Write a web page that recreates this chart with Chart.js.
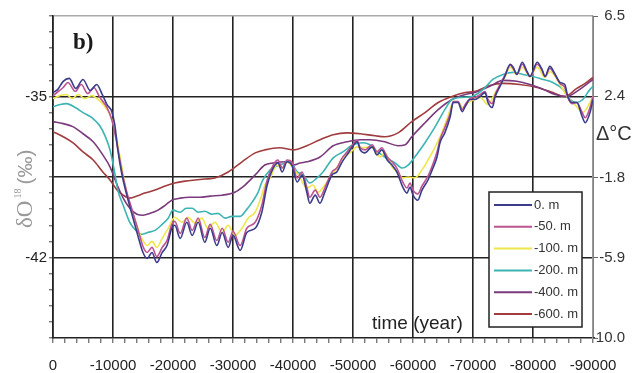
<!DOCTYPE html>
<html>
<head>
<meta charset="utf-8">
<script src="https://cdn.jsdelivr.net/npm/chart.js@4.4.1/dist/chart.umd.min.js"></script>
<style>
  html, body { margin: 0; padding: 0; background: #fff; }
  canvas { display: block; }
</style>
</head>
<body>
<canvas id="iso" width="632" height="373"></canvas>
<script>
// series: delta O18 (per mil) against time (years), one array of [time, value] per depth
const seriesLabels = ['0. m', '-50. m', '-100. m', '-200. m', '-400. m', '-600. m'];
const seriesColors = ['#3c3c8c', '#bc5490', '#eee64a', '#3cb4b4', '#7a3a7c', '#a03c3e'];

const d0 = [[0,-34.83],[-800,-34.69],[-1700,-34.34],[-2700,-34.21],[-3800,-34.65],[-5000,-34.26],[-6200,-34.74],[-7300,-34.48],[-8200,-34.91],[-9000,-35.35],[-9800,-35.66],[-10300,-36.23],[-10800,-37.32],[-11500,-38.41],[-12300,-39.29],[-13200,-40.16],[-14000,-40.91],[-15000,-41.78],[-15700,-42.04],[-16500,-41.78],[-17300,-42.22],[-18200,-41.78],[-19000,-41.48],[-19800,-40.73],[-20300,-40.60],[-21200,-41.17],[-22300,-40.47],[-23200,-41.04],[-24200,-40.47],[-25300,-41.34],[-26200,-40.73],[-27300,-41.48],[-28200,-40.91],[-29200,-41.56],[-30000,-41.04],[-31200,-41.69],[-32300,-40.91],[-33700,-40.73],[-34800,-40.03],[-35700,-38.85],[-36700,-38.11],[-37500,-37.89],[-38200,-38.28],[-39000,-37.84],[-39800,-37.98],[-40700,-38.72],[-41500,-38.41],[-42300,-39.16],[-42800,-39.64],[-43700,-39.29],[-44500,-39.64],[-45300,-39.16],[-46500,-38.41],[-47300,-38.28],[-48200,-37.84],[-49000,-37.54],[-49800,-37.23],[-50700,-36.97],[-51200,-37.32],[-52000,-37.45],[-53200,-37.19],[-54000,-37.54],[-54800,-37.32],[-55700,-37.76],[-56500,-37.98],[-57300,-38.28],[-58300,-38.94],[-59000,-39.20],[-59500,-38.94],[-60000,-39.29],[-60800,-39.51],[-61500,-39.07],[-62500,-38.63],[-63200,-38.19],[-64000,-37.63],[-64500,-37.01],[-65300,-36.58],[-66200,-35.88],[-66700,-35.26],[-67500,-35.26],[-68200,-35.66],[-68700,-35.44],[-69500,-35.13],[-70300,-35.13],[-71200,-35.00],[-72000,-34.83],[-72500,-35.26],[-73200,-35.48],[-73700,-35.00],[-74500,-34.56],[-75300,-34.13],[-76200,-33.60],[-76700,-33.73],[-77300,-34.04],[-78200,-33.51],[-79000,-33.91],[-79500,-34.13],[-80700,-33.51],[-81500,-33.82],[-82000,-34.13],[-82800,-33.69],[-83700,-34.04],[-84500,-34.39],[-85300,-34.48],[-85800,-35.00],[-86500,-35.26],[-87300,-35.26],[-88200,-35.88],[-88700,-36.14],[-89500,-35.70],[-90000,-35.13]];

const d50 = [[0,-34.96],[-1700,-34.61],[-2500,-34.39],[-3700,-34.78],[-4700,-34.48],[-5800,-34.87],[-6800,-34.61],[-7800,-35.04],[-9000,-35.48],[-9800,-36.01],[-10700,-37.10],[-11500,-38.28],[-12300,-39.16],[-13200,-39.94],[-14200,-40.82],[-15000,-41.52],[-15700,-41.78],[-16500,-41.56],[-17300,-41.96],[-18200,-41.56],[-19000,-41.26],[-19800,-40.56],[-20300,-40.43],[-21200,-40.95],[-22300,-40.29],[-23200,-40.82],[-24200,-40.29],[-25300,-41.13],[-26200,-40.56],[-27300,-41.26],[-28200,-40.73],[-29200,-41.34],[-30000,-40.86],[-31200,-41.48],[-32300,-40.73],[-33700,-40.47],[-34800,-39.73],[-35700,-38.63],[-36700,-37.98],[-37500,-37.76],[-38200,-38.11],[-39000,-37.76],[-39800,-37.84],[-40700,-38.54],[-41500,-38.28],[-42300,-38.94],[-42800,-39.38],[-43700,-39.07],[-44500,-39.38],[-45300,-38.98],[-46500,-38.28],[-47300,-38.11],[-48200,-37.67],[-49000,-37.41],[-49800,-37.14],[-50700,-36.92],[-51200,-37.23],[-52000,-37.32],[-53200,-37.10],[-54000,-37.41],[-54800,-37.23],[-55700,-37.63],[-56500,-37.84],[-57300,-38.11],[-58300,-38.72],[-59000,-38.98],[-59500,-38.76],[-60000,-39.07],[-60800,-39.24],[-61500,-38.89],[-62500,-38.46],[-63200,-38.02],[-64000,-37.41],[-64500,-36.88],[-65300,-36.36],[-66200,-35.74],[-66700,-35.22],[-67500,-35.22],[-68200,-35.57],[-68700,-35.35],[-69500,-35.09],[-70300,-35.04],[-71200,-34.91],[-72000,-34.78],[-72500,-35.13],[-73200,-35.31],[-73700,-34.91],[-74500,-34.48],[-75300,-34.08],[-76200,-33.64],[-76700,-33.78],[-77300,-34.04],[-78200,-33.60],[-79000,-33.95],[-79500,-34.13],[-80700,-33.60],[-81500,-33.86],[-82000,-34.13],[-82800,-33.78],[-83700,-34.08],[-84500,-34.43],[-85300,-34.61],[-85800,-35.04],[-86500,-35.31],[-87300,-35.26],[-88200,-35.70],[-88700,-35.92],[-89500,-35.48],[-90000,-35.00]];

const d100 = [[0,-35.09],[-1200,-34.96],[-2200,-34.91],[-3200,-35.09],[-4200,-34.91],[-5300,-35.09],[-6500,-34.96],[-7500,-35.13],[-8500,-35.39],[-9500,-35.79],[-10300,-36.44],[-11200,-37.67],[-12000,-38.85],[-12800,-39.73],[-13800,-40.47],[-14800,-41.17],[-15700,-41.48],[-16500,-41.30],[-17300,-41.56],[-18200,-41.17],[-19200,-40.73],[-20300,-40.25],[-21500,-40.47],[-22500,-40.25],[-23700,-40.51],[-24800,-40.29],[-25800,-40.73],[-27000,-40.47],[-28200,-40.91],[-29200,-40.60],[-30300,-41.04],[-31500,-40.73],[-32500,-40.29],[-33700,-40.03],[-34800,-39.29],[-35300,-38.85],[-36200,-38.54],[-37300,-37.98],[-38200,-38.11],[-39000,-37.84],[-40000,-38.11],[-41200,-38.54],[-42300,-38.98],[-43300,-38.85],[-44200,-39.16],[-45300,-38.85],[-46500,-38.41],[-47300,-38.11],[-48300,-37.67],[-49500,-37.45],[-50700,-37.19],[-51700,-37.23],[-52800,-37.19],[-53700,-37.32],[-54500,-37.63],[-55300,-37.45],[-56500,-38.06],[-57500,-38.33],[-58300,-38.54],[-59200,-38.50],[-60300,-38.54],[-61500,-38.19],[-62500,-37.76],[-63700,-37.19],[-64800,-36.58],[-65800,-35.88],[-66700,-35.26],[-67500,-35.22],[-68300,-35.48],[-69200,-35.26],[-70300,-35.13],[-71200,-35.04],[-72500,-35.35],[-73700,-34.83],[-75300,-34.17],[-76200,-33.73],[-77300,-34.04],[-78200,-33.73],[-79500,-34.13],[-80700,-33.73],[-82000,-34.17],[-82800,-33.91],[-84500,-34.48],[-85800,-35.04],[-87300,-35.44],[-88300,-35.70],[-89500,-35.26],[-90000,-35.00]];

const d200 = [[0,-35.44],[-1200,-35.35],[-2300,-35.31],[-3700,-35.48],[-5000,-35.70],[-6500,-35.92],[-7800,-36.27],[-8800,-36.79],[-9500,-37.32],[-10200,-38.19],[-10800,-39.07],[-11700,-39.73],[-12800,-40.47],[-13800,-40.82],[-14800,-40.99],[-15800,-40.91],[-17000,-40.82],[-18200,-40.56],[-19200,-40.29],[-20000,-39.94],[-21200,-40.03],[-22200,-39.86],[-23200,-39.86],[-24200,-40.03],[-25300,-39.99],[-26500,-40.12],[-27500,-40.08],[-28700,-40.29],[-29800,-40.21],[-31200,-40.21],[-32200,-39.94],[-33200,-39.59],[-34200,-39.16],[-34800,-38.72],[-35500,-38.41],[-36500,-38.11],[-37800,-37.98],[-39500,-37.84],[-40700,-38.28],[-41700,-38.41],[-42800,-38.76],[-44000,-38.54],[-45000,-38.28],[-46700,-37.67],[-48300,-37.41],[-50000,-37.10],[-51700,-37.01],[-52800,-37.10],[-53700,-37.32],[-55300,-37.63],[-57000,-37.89],[-58200,-38.11],[-59200,-37.98],[-60300,-37.63],[-62000,-37.01],[-63700,-36.31],[-65300,-35.57],[-66500,-35.13],[-68200,-35.04],[-69800,-35.00],[-71700,-34.69],[-73300,-34.26],[-75000,-34.04],[-76700,-33.95],[-78300,-34.04],[-80000,-34.13],[-81700,-34.26],[-83300,-34.39],[-85000,-34.69],[-86200,-35.13],[-87300,-35.26],[-88300,-35.13],[-89500,-34.69],[-90000,-34.56]];

const d400 = [[0,-36.09],[-1700,-36.18],[-3300,-36.31],[-5000,-36.62],[-6700,-36.97],[-8300,-37.54],[-9500,-38.06],[-10700,-38.85],[-11700,-39.42],[-12800,-39.86],[-14000,-40.12],[-15000,-40.16],[-16200,-40.08],[-17500,-39.94],[-18700,-39.73],[-19800,-39.51],[-21200,-39.42],[-22800,-39.38],[-24500,-39.38],[-26200,-39.33],[-28200,-39.29],[-30300,-39.16],[-32000,-38.85],[-33700,-38.41],[-35300,-37.98],[-36700,-37.89],[-39000,-37.84],[-40000,-37.98],[-41200,-37.89],[-42300,-37.84],[-44500,-37.63],[-46700,-37.14],[-49000,-36.97],[-51200,-36.88],[-52800,-36.88],[-55300,-36.97],[-57500,-37.14],[-58700,-37.10],[-59800,-36.75],[-62000,-36.14],[-64200,-35.57],[-66500,-35.13],[-68700,-34.91],[-70300,-34.83],[-72800,-34.56],[-75000,-34.30],[-77300,-34.34],[-79500,-34.48],[-81700,-34.69],[-83700,-34.91],[-85700,-35.00],[-87300,-34.78],[-88700,-34.52],[-90000,-34.26]];

const d600 = [[0,-36.53],[-1700,-36.75],[-3300,-37.01],[-5000,-37.41],[-6700,-37.76],[-8300,-38.28],[-9500,-38.63],[-10700,-39.07],[-11700,-39.29],[-12800,-39.42],[-14000,-39.33],[-15300,-39.20],[-17000,-39.07],[-18700,-38.89],[-20300,-38.76],[-22000,-38.68],[-23700,-38.63],[-25300,-38.59],[-27000,-38.54],[-29200,-38.28],[-31500,-37.84],[-33700,-37.45],[-35300,-37.32],[-37800,-37.23],[-40000,-37.32],[-42300,-37.14],[-44500,-36.88],[-46700,-36.66],[-49000,-36.58],[-51200,-36.62],[-53700,-36.71],[-55300,-36.75],[-57500,-36.58],[-59800,-36.09],[-62000,-35.70],[-64200,-35.26],[-66500,-35.00],[-68700,-34.83],[-70300,-34.78],[-72800,-34.52],[-75000,-34.43],[-77800,-34.48],[-80700,-34.61],[-83300,-34.83],[-85300,-35.00],[-87300,-34.65],[-88700,-34.43],[-90000,-34.17]];

const seriesData = [d0, d50, d100, d200, d400, d600];

// axes
const xMajor = [0, -10000, -20000, -30000, -40000, -50000, -60000, -70000, -80000, -90000];
const leftLabels = [-35, -42];
const leftGrid = [-35, -38.5, -42];
const rightTicks = [6.5, 2.4, -1.8, -5.9, -10.0];

const tickFont = { family: "'Liberation Sans', Arial, sans-serif", size: 15 };
const near = (a, b) => Math.abs(a - b) < 0.01;

const textPlugin = {
  id: 'texts',
  afterDraw(chart) {
    const ctx = chart.ctx;
    const area = chart.chartArea;
    ctx.save();

    // panel letter
    ctx.fillStyle = '#1a1a1a';
    ctx.font = "bold 23px 'Liberation Serif', 'Times New Roman', serif";
    ctx.textBaseline = 'alphabetic';
    ctx.textAlign = 'left';
    ctx.fillText('b)', area.left + 20, area.top + 33);

    // x title inside plot
    ctx.fillStyle = '#222';
    ctx.font = "19px 'Liberation Sans', Arial, sans-serif";
    ctx.fillText('time (year)', 372, area.bottom - 9);

    // right title
    ctx.fillStyle = '#333';
    ctx.font = "20px 'Liberation Sans', Arial, sans-serif";
    ctx.fillText('\u0394\u00B0C', 596, 140);

    // left title, rotated
    ctx.save();
    ctx.translate(32, 228);
    ctx.rotate(-Math.PI / 2);
    ctx.fillStyle = '#9a9a9a';
    let x = 0;
    ctx.font = "23px 'Liberation Serif', 'Times New Roman', serif";
    ctx.fillText('\u03B4O', x, 0);
    x += ctx.measureText('\u03B4O').width + 2;
    ctx.font = "10px 'Liberation Serif', serif";
    ctx.fillText('18', x, -11);
    x += ctx.measureText('18').width + 4;
    ctx.font = "21px 'Liberation Sans', Arial, sans-serif";
    ctx.fillText('(\u2030)', x, 0);
    ctx.restore();

    // legend box
    const lx = area.right - 104, ly = area.top + 176, lw = 93, lh = 135;
    ctx.fillStyle = '#fff';
    ctx.fillRect(lx, ly, lw, lh);
    ctx.strokeStyle = '#222';
    ctx.lineWidth = 1.5;
    ctx.strokeRect(lx, ly, lw, lh);
    ctx.font = "13px 'Liberation Sans', Arial, sans-serif";
    ctx.textBaseline = 'middle';
    seriesLabels.forEach((lab, i) => {
      const yy = ly + 13 + i * 21.8;
      ctx.strokeStyle = seriesColors[i];
      ctx.lineWidth = 2;
      ctx.beginPath();
      ctx.moveTo(lx + 5, yy);
      ctx.lineTo(lx + 43, yy);
      ctx.stroke();
      ctx.fillStyle = '#333';
      ctx.fillText(lab, lx + 45, yy);
    });

    ctx.restore();
  }
};

const datasets = seriesData.map((d, i) => ({
  label: seriesLabels[i],
  data: d.map(p => ({ x: p[0], y: p[1] })),
  borderColor: seriesColors[i],
  borderWidth: 1.6,
  pointRadius: 0,
  fill: false,
  cubicInterpolationMode: 'monotone',
  yAxisID: 'y'
}));

new Chart(document.getElementById('iso'), {
  type: 'line',
  data: { datasets },
  options: {
    responsive: false,
    animation: false,
    layout: { padding: { top: 16, right: 7, left: 0, bottom: 0 } },
    plugins: { legend: { display: false }, tooltip: { enabled: false } },
    scales: {
      x: {
        type: 'linear',
        reverse: true,
        min: -90000,
        max: 0,
        afterBuildTicks: scale => {
          const t = [];
          for (let v = 0; v >= -90000; v -= 2000) t.push({ value: v });
          scale.ticks = t;
        },
        afterFit: scale => { scale.height = 35; },
        ticks: {
          autoSkip: false,
          maxRotation: 0,
          padding: 14,
          color: '#222',
          font: tickFont,
          callback: v => (xMajor.includes(v) ? String(v) : '')
        },
        grid: {
          color: c => (c.tick && xMajor.includes(c.tick.value) ? '#222' : 'rgba(0,0,0,0)'),
          lineWidth: 1.6,
          tickColor: '#444',
          tickWidth: 1,
          tickLength: 5
        },
        border: { color: '#222', width: 1.6 }
      },
      y: {
        position: 'left',
        min: -45.5,
        max: -31.5,
        afterBuildTicks: scale => {
          const t = [];
          for (let k = 0; k <= 20; k++) t.push({ value: Math.round((-45.5 + k * 0.7) * 100) / 100 });
          scale.ticks = t;
        },
        afterFit: scale => { scale.width = 53; },
        ticks: {
          autoSkip: false,
          padding: 2,
          color: '#222',
          font: tickFont,
          callback: v => (leftLabels.some(l => near(l, v)) ? String(v) : '')
        },
        grid: {
          color: c => {
            const v = c.tick ? c.tick.value : 0;
            if (leftGrid.some(g => near(g, v))) return '#222';
            if (near(v, -31.5)) return '#aaa';
            return 'rgba(0,0,0,0)';
          },
          lineWidth: 1.6,
          tickColor: '#444',
          tickWidth: 1,
          tickLength: 4
        },
        border: { color: '#222', width: 1.6 }
      },
      y1: {
        position: 'right',
        min: -10.0,
        max: 6.5,
        afterBuildTicks: scale => { scale.ticks = rightTicks.map(v => ({ value: v })); },
        afterFit: scale => { scale.width = 32; },
        ticks: {
          autoSkip: false,
          crossAlign: 'far',
          color: '#333',
          font: tickFont,
          callback: v => v.toFixed(1)
        },
        grid: {
          drawOnChartArea: false,
          tickColor: '#666',
          tickLength: 5
        },
        border: { color: '#9a9a9a', width: 1.2 }
      }
    }
  },
  plugins: [textPlugin]
});
</script>
</body>
</html>
